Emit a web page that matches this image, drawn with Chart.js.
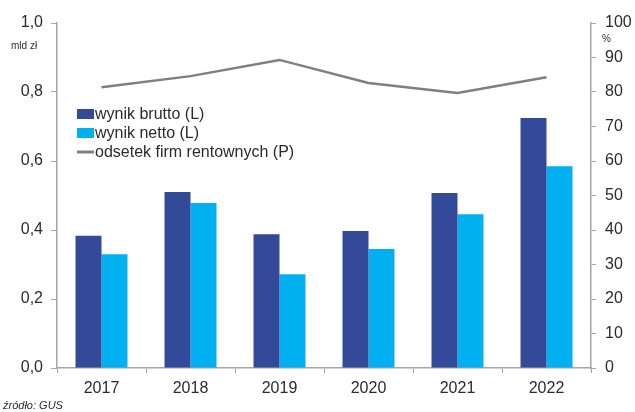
<!DOCTYPE html>
<html>
<head>
<meta charset="utf-8">
<script src="https://cdn.jsdelivr.net/npm/chart.js@4/dist/chart.umd.min.js"></script>
<style>
  html, body { margin: 0; padding: 0; background: #fff; }
  #wrap { position: relative; width: 635px; height: 412px; }
</style>
</head>
<body>
<div id="wrap"><canvas id="myChart" width="635" height="412"></canvas></div>
<script>
// data
const years = ['2017', '2018', '2019', '2020', '2021', '2022'];
const grossResult = [0.383, 0.510, 0.388, 0.397, 0.507, 0.725];
const netResult = [0.330, 0.478, 0.272, 0.345, 0.446, 0.585];
const profitableShare = [81.4, 84.6, 89.3, 82.6, 79.7, 84.3];
const leftTickLabels = ['0,0', '0,2', '0,4', '0,6', '0,8', '1,0'];
const rightTickLabels = ['0', '10', '20', '30', '40', '50', '60', '70', '80', '90', '100'];

const axisColor = '#a6a6a6';
const textColor = '#2b2b2b';
const tickFont = { family: 'Liberation Sans, Arial, sans-serif', size: 16 };

// legend + unit labels + source drawn straight on the canvas
const extras = {
    id: 'extras',
    afterDraw(chart) {
        const ctx = chart.ctx;
        ctx.save();
        ctx.textBaseline = 'middle';
        ctx.textAlign = 'left';
        ctx.fillStyle = textColor;

        ctx.font = '10px "Liberation Sans", Arial, sans-serif';
        ctx.fillText('mld zł', 11, 46);
        ctx.fillText('%', 602, 39);

        ctx.font = 'italic 11px "Liberation Sans", Arial, sans-serif';
        ctx.fillText('źródło: GUS', 3, 406);

        // legend
        const items = chart.data.datasets;
        const x0 = 77, y0 = 114, step = 19;
        ctx.font = '16px "Liberation Sans", Arial, sans-serif';
        items.forEach((ds, i) => {
            const y = y0 + i * step;
            if (ds.type === 'line') {
                ctx.strokeStyle = ds.borderColor;
                ctx.lineWidth = 3;
                ctx.beginPath();
                ctx.moveTo(x0, y);
                ctx.lineTo(x0 + 17, y);
                ctx.stroke();
            } else {
                ctx.fillStyle = ds.backgroundColor;
                ctx.fillRect(x0, y - 5, 17, 10);
            }
            ctx.fillStyle = textColor;
            ctx.fillText(ds.label, x0 + 18, y + 1);
        });
        ctx.restore();
    }
};

new Chart(document.getElementById('myChart').getContext('2d'), {
    type: 'bar',
    data: {
        labels: years,
        datasets: [
            {
                label: 'wynik brutto (L)',
                data: grossResult,
                backgroundColor: '#334a99',
                yAxisID: 'y',
                order: 2
            },
            {
                label: 'wynik netto (L)',
                data: netResult,
                backgroundColor: '#00b0f0',
                yAxisID: 'y',
                order: 2
            },
            {
                type: 'line',
                label: 'odsetek firm rentownych (P)',
                data: profitableShare,
                borderColor: '#7f7f7f',
                borderWidth: 2.5,
                pointRadius: 0,
                tension: 0,
                yAxisID: 'y1',
                order: 1
            }
        ]
    },
    options: {
        responsive: false,
        animation: false,
        devicePixelRatio: 1,
        categoryPercentage: 0.584,
        barPercentage: 1,
        layout: { padding: { top: 23, left: 0, right: 0, bottom: 0 } },
        plugins: {
            legend: { display: false },
            tooltip: { enabled: false }
        },
        scales: {
            x: {
                grid: { offset: true, drawOnChartArea: false, color: axisColor, tickLength: 5 },
                border: { color: axisColor, width: 1.5 },
                ticks: { color: textColor, font: tickFont, padding: 6 },
                afterFit(scale) { scale.height = 44; }
            },
            y: {
                position: 'left',
                min: 0,
                max: 1,
                grid: { drawOnChartArea: false, color: axisColor, tickLength: 6 },
                border: { color: axisColor, width: 1.5 },
                ticks: {
                    stepSize: 0.2,
                    color: textColor,
                    font: tickFont,
                    padding: 8,
                    callback: (v, i) => leftTickLabels[i]
                },
                afterFit(scale) { scale.width = 57; }
            },
            y1: {
                position: 'right',
                min: 0,
                max: 100,
                grid: { drawOnChartArea: false, color: axisColor, tickLength: 5 },
                border: { color: axisColor, width: 1.5 },
                ticks: {
                    stepSize: 10,
                    color: textColor,
                    font: tickFont,
                    padding: 9,
                    callback: (v, i) => rightTickLabels[i]
                },
                afterFit(scale) { scale.width = 44; }
            }
        }
    },
    plugins: [extras]
});
</script>
</body>
</html>
